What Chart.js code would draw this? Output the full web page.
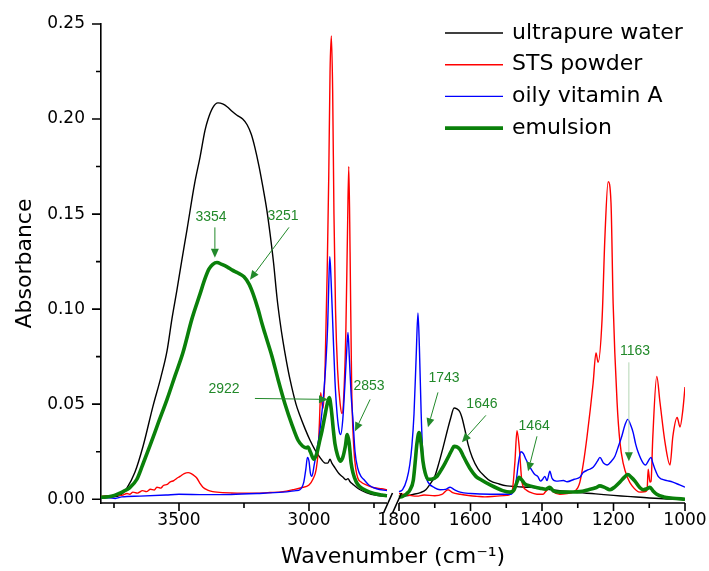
<!DOCTYPE html>
<html>
<head>
<meta charset="utf-8">
<script src="https://cdn.jsdelivr.net/npm/chart.js@4.4.0/dist/chart.umd.min.js"></script>
<style>
  html, body { margin: 0; padding: 0; background: #fff; }
  #wrap { width: 709px; height: 571px; }
</style>
</head>
<body>
<div id="wrap"><canvas id="chart" width="709" height="571"></canvas></div>
<script>
// two pieces of the broken wavenumber axis (cm-1)
const leftRange = [3800, 2700];
const rightRange = [1800, 1000];
const gapWidth = 0.042; // width of the break, in segment widths

const xMajorTicks = [3500, 3000, 1800, 1600, 1400, 1200, 1000];
const xTickList = [3750, 3500, 3250, 3000, 2750, 1800, 1700, 1600, 1500, 1400, 1300, 1200, 1100, 1000];
const yTickValues = [0, 0.025, 0.05, 0.075, 0.1, 0.125, 0.15, 0.175, 0.2, 0.225, 0.25];

// [wavenumber, absorbance]
const waterSpectrum = [
  [3800,0.001],[3760,0.0012],[3727,0.002],[3700,0.006],[3670,0.014],[3638,0.028],[3600,0.049],[3570,0.064],
  [3546,0.078],[3527,0.095],[3508,0.11],[3490,0.125],[3469,0.142],[3440,0.166],[3419,0.18],[3400,0.194],
  [3388,0.2],[3370,0.206],[3350,0.2085],[3330,0.2078],[3315,0.2065],[3295,0.204],[3277,0.202],[3255,0.2],
  [3238,0.197],[3222,0.192],[3208,0.185],[3192,0.175],[3177,0.164],[3162,0.152],[3150,0.14],[3136,0.124],
  [3123,0.106],[3112,0.094],[3100,0.083],[3086,0.072],[3073,0.063],[3050,0.05],[3035,0.044],[3015,0.037],
  [2996,0.031],[2977,0.026],[2958,0.022],[2938,0.019],[2928,0.019],[2919,0.021],[2912,0.019],[2900,0.0165],
  [2885,0.0135],[2869,0.0115],[2858,0.0102],[2850,0.0108],[2842,0.0092],[2831,0.0078],[2810,0.0055],
  [2780,0.0035],[2740,0.002],[2700,0.0015],
  [1800,0.0012],[1780,0.0018],[1761,0.0025],[1740,0.0035],[1725,0.005],[1713,0.008],[1700,0.012],[1690,0.018],
  [1677,0.027],[1665,0.036],[1655,0.043],[1646,0.048],[1638,0.0475],[1630,0.046],[1624,0.043],[1615,0.036],
  [1607,0.029],[1595,0.022],[1579,0.016],[1560,0.012],[1546,0.0098],[1520,0.008],[1498,0.007],[1470,0.0066],
  [1434,0.0062],[1400,0.0055],[1350,0.0045],[1313,0.0037],[1250,0.0028],[1200,0.002],[1162,0.0015],
  [1100,0.0006],[1050,0.0001],[1000,0]
];

const stsSpectrum = [
  [3800,0.0015],[3780,0.0018],[3760,0.0016],[3740,0.0022],[3720,0.002],[3700,0.003],[3690,0.0026],[3677,0.0037],
  [3660,0.0032],[3640,0.0045],[3625,0.004],[3610,0.0052],[3595,0.0048],[3585,0.0063],[3570,0.0058],[3560,0.0072],
  [3545,0.0078],[3535,0.009],[3520,0.0098],[3508,0.011],[3496,0.012],[3480,0.0135],[3465,0.014],[3450,0.0132],
  [3440,0.0122],[3431,0.011],[3420,0.0085],[3408,0.0063],[3390,0.0048],[3370,0.004],[3354,0.0037],[3300,0.0033],
  [3250,0.0032],[3200,0.0032],[3150,0.0035],[3100,0.004],[3062,0.005],[3030,0.006],[3000,0.0075],[2985,0.0105],
  [2972,0.016],[2965,0.025],[2960,0.04],[2955,0.056],[2950,0.05],[2945,0.048],[2938,0.07],[2930,0.12],
  [2924,0.17],[2919,0.225],[2914,0.2437],[2909,0.215],[2904,0.15],[2898,0.1],[2890,0.068],[2880,0.05],
  [2873,0.045],[2866,0.055],[2858,0.09],[2852,0.14],[2847,0.175],[2842,0.13],[2836,0.06],[2828,0.028],
  [2820,0.016],[2812,0.011],[2800,0.009],[2780,0.0075],[2750,0.006],[2720,0.0055],[2700,0.005],
  [1800,0.003],[1790,0.0026],[1770,0.002],[1750,0.0016],[1730,0.0022],[1700,0.0018],[1680,0.0025],[1663,0.005],
  [1650,0.0035],[1629,0.0026],[1600,0.0018],[1582,0.0015],[1560,0.0012],[1526,0.0016],[1498,0.002],[1484,0.0037],
  [1476,0.019],[1470,0.036],[1464,0.028],[1456,0.009],[1445,0.005],[1434,0.0037],[1414,0.0026],[1397,0.0026],
  [1390,0.004],[1378,0.006],[1369,0.004],[1350,0.0026],[1330,0.003],[1313,0.0037],[1300,0.006],[1294,0.009],
  [1285,0.018],[1274,0.033],[1257,0.061],[1249,0.077],[1243,0.072],[1232,0.0945],[1224,0.138],[1215,0.167],
  [1207,0.156],[1201,0.103],[1190,0.051],[1182,0.03],[1173,0.019],[1160,0.011],[1148,0.007],[1126,0.0037],
  [1110,0.004],[1106,0.005],[1103,0.0158],[1098,0.009],[1095,0.0095],[1090,0.033],[1079,0.0646],[1070,0.051],
  [1056,0.03],[1042,0.018],[1034,0.033],[1022,0.043],[1014,0.038],[1006,0.047],[1000,0.059]
];

const vitaminSpectrum = [
  [3800,0.0005],[3770,0.0008],[3745,0.0004],[3720,0.0012],[3650,0.0016],[3550,0.0022],[3500,0.0026],[3400,0.0024],
  [3300,0.0025],[3200,0.003],[3100,0.0037],[3050,0.0045],[3035,0.005],[3020,0.009],[3012,0.016],[3006,0.022],
  [3000,0.02],[2995,0.014],[2989,0.012],[2980,0.018],[2970,0.026],[2960,0.034],[2950,0.046],[2942,0.058],
  [2935,0.072],[2928,0.092],[2924,0.113],[2920,0.1276],[2915,0.115],[2908,0.09],[2900,0.062],[2892,0.045],
  [2884,0.036],[2878,0.034],[2870,0.042],[2862,0.06],[2855,0.078],[2850,0.0877],[2845,0.075],[2838,0.055],
  [2831,0.042],[2823,0.025],[2812,0.016],[2800,0.012],[2790,0.0105],[2770,0.0075],[2740,0.0055],[2700,0.0045],
  [1800,0.004],[1790,0.005],[1778,0.0105],[1770,0.018],[1764,0.028],[1758,0.045],[1752,0.075],[1747,0.098],
  [1743,0.08],[1738,0.045],[1733,0.022],[1726,0.013],[1719,0.009],[1700,0.006],[1685,0.005],[1670,0.0052],
  [1657,0.0063],[1645,0.005],[1629,0.0037],[1600,0.003],[1545,0.0026],[1490,0.0026],[1480,0.004],[1472,0.01],
  [1466,0.019],[1459,0.025],[1452,0.024],[1445,0.021],[1434,0.017],[1420,0.013],[1412,0.012],[1404,0.0095],
  [1398,0.0105],[1392,0.012],[1386,0.0098],[1378,0.0147],[1372,0.011],[1360,0.0095],[1340,0.0098],[1330,0.0092],
  [1310,0.0105],[1294,0.0115],[1285,0.014],[1270,0.0155],[1257,0.0168],[1245,0.02],[1238,0.022],[1228,0.019],
  [1218,0.018],[1206,0.02],[1196,0.0226],[1186,0.028],[1177,0.033],[1168,0.039],[1160,0.042],[1152,0.039],
  [1145,0.035],[1138,0.029],[1131,0.0247],[1117,0.019],[1110,0.018],[1106,0.019],[1100,0.021],[1095,0.022],
  [1090,0.019],[1084,0.0158],[1075,0.012],[1065,0.0105],[1050,0.0098],[1034,0.009],[1015,0.0075],[1000,0.0063]
];

const emulsionSpectrum = [
  [3800,0.001],[3760,0.0015],[3730,0.003],[3715,0.004],[3690,0.006],[3662,0.0105],[3640,0.018],[3612,0.028],
  [3580,0.04],[3546,0.0525],[3515,0.065],[3485,0.077],[3450,0.095],[3419,0.108],[3400,0.116],[3385,0.121],
  [3370,0.1235],[3354,0.1245],[3335,0.1235],[3315,0.1222],[3295,0.1205],[3273,0.119],[3250,0.117],[3230,0.113],
  [3215,0.108],[3196,0.1],[3180,0.092],[3169,0.087],[3142,0.075],[3119,0.063],[3092,0.05],[3065,0.039],
  [3042,0.031],[3025,0.028],[3010,0.027],[3004,0.0275],[2995,0.025],[2981,0.021],[2970,0.024],[2960,0.03],
  [2950,0.036],[2940,0.043],[2930,0.05],[2922,0.0535],[2914,0.047],[2906,0.036],[2900,0.029],[2890,0.023],
  [2880,0.02],[2870,0.022],[2860,0.028],[2853,0.034],[2846,0.03],[2838,0.019],[2831,0.014],[2818,0.009],
  [2804,0.0065],[2780,0.0045],[2750,0.003],[2720,0.0022],[2700,0.0018],
  [1800,0.001],[1790,0.0015],[1778,0.003],[1769,0.005],[1760,0.01],[1755,0.019],[1750,0.029],[1744,0.035],
  [1738,0.029],[1733,0.02],[1727,0.014],[1719,0.0105],[1710,0.0105],[1694,0.012],[1680,0.016],[1671,0.019],
  [1660,0.023],[1652,0.026],[1646,0.0278],[1638,0.0275],[1629,0.026],[1621,0.023],[1610,0.019],[1601,0.016],
  [1585,0.012],[1573,0.0105],[1545,0.0075],[1510,0.0045],[1490,0.0037],[1478,0.005],[1470,0.009],[1464,0.0115],
  [1456,0.01],[1448,0.008],[1434,0.007],[1406,0.0058],[1390,0.0052],[1378,0.0063],[1369,0.0045],[1350,0.0037],
  [1320,0.0038],[1294,0.004],[1270,0.005],[1250,0.006],[1238,0.007],[1225,0.0062],[1210,0.005],[1196,0.0065],
  [1182,0.009],[1170,0.0115],[1160,0.013],[1150,0.0115],[1140,0.0095],[1126,0.006],[1117,0.005],[1106,0.0055],
  [1098,0.0063],[1090,0.0045],[1079,0.0026],[1060,0.0012],[1034,0.0005],[1000,0]
];

// peak labels: text position, arrow start, arrow tip (wavenumber, absorbance)
const peakNotes = [
  { text: '3354', at: [3377, 0.1486], from: [3362, 0.143], to: [3362, 0.127] },
  { text: '3251', at: [3100, 0.149], from: [3077, 0.143], to: [3227, 0.1155] },
  { text: '2922', at: [3327, 0.0578], from: [3208, 0.053], to: [2927, 0.0525] },
  { text: '2853', at: [2769, 0.0593], from: [2765, 0.0525], to: [2823, 0.0357] },
  { text: '1743', at: [1674, 0.0636], from: [1691, 0.0562], to: [1719, 0.0378] },
  { text: '1646', at: [1568, 0.0499], from: [1557, 0.0441], to: [1624, 0.030] },
  { text: '1464', at: [1422, 0.0383], from: [1414, 0.0331], to: [1439, 0.0147] },
  { text: '1163', at: [1140, 0.0777], from: [1157, 0.072], to: [1157, 0.020], faint: true }
];
const noteColor = '#22892a';

const splitWn = (leftRange[1] + rightRange[0]) / 2;

function wnToU(wn) {
  if (wn > splitWn) return (leftRange[0] - wn) / (leftRange[0] - leftRange[1]);
  return 1 + gapWidth + (rightRange[0] - wn) / (rightRange[0] - rightRange[1]);
}

function toPoints(spectrum) {
  const pts = [];
  spectrum.forEach(([wn, a], i) => {
    if (i > 0 && spectrum[i - 1][0] > splitWn && wn < splitWn) {
      pts.push({ x: 1 + gapWidth / 2, y: null }); // no line across the break
    }
    pts.push({ x: wnToU(wn), y: a });
  });
  return pts;
}

const isMajorY = v => Math.abs(v * 20 - Math.round(v * 20)) < 1e-6;

const axisDecor = {
  id: 'axisDecor',
  afterDatasetsDraw(chart) {
    const { ctx, chartArea, scales: { x, y } } = chart;
    const yb = chartArea.bottom;
    const leftEnd = x.getPixelForValue(1);
    const rightStart = x.getPixelForValue(1 + gapWidth);
    ctx.save();
    ctx.strokeStyle = '#000';
    ctx.lineWidth = 1.6;
    ctx.beginPath();
    ctx.moveTo(chartArea.left, yb); ctx.lineTo(leftEnd, yb);
    ctx.moveTo(rightStart, yb); ctx.lineTo(chartArea.right, yb);
    [leftEnd + 1, rightStart - 2].forEach(cx => {
      ctx.moveTo(cx - 4.5, yb + 10); ctx.lineTo(cx + 4.5, yb - 10);
    });
    xTickList.forEach(wn => {
      const px = x.getPixelForValue(wnToU(wn));
      ctx.moveTo(px, yb); ctx.lineTo(px, yb + (xMajorTicks.includes(wn) ? 8 : 5));
    });
    yTickValues.forEach(v => {
      const py = y.getPixelForValue(v);
      ctx.moveTo(chartArea.left, py); ctx.lineTo(chartArea.left - (isMajorY(v) ? 9 : 5), py);
    });
    ctx.stroke();
    ctx.restore();
  }
};

const peakLabels = {
  id: 'peakLabels',
  afterDatasetsDraw(chart) {
    const { ctx, scales: { x, y } } = chart;
    const px = wn => x.getPixelForValue(wnToU(wn));
    ctx.save();
    ctx.font = '14px "Liberation Sans", Arial, sans-serif';
    ctx.textAlign = 'center';
    ctx.textBaseline = 'middle';
    peakNotes.forEach(n => {
      ctx.fillStyle = noteColor;
      ctx.fillText(n.text, px(n.at[0]), y.getPixelForValue(n.at[1]));
      const x0 = px(n.from[0]), y0 = y.getPixelForValue(n.from[1]);
      const x1 = px(n.to[0]), y1 = y.getPixelForValue(n.to[1]);
      const ang = Math.atan2(y1 - y0, x1 - x0);
      const bx = x1 - 9 * Math.cos(ang), by = y1 - 9 * Math.sin(ang);
      ctx.strokeStyle = n.faint ? '#b5d6b5' : noteColor;
      ctx.lineWidth = 1;
      ctx.beginPath(); ctx.moveTo(x0, y0); ctx.lineTo(bx, by); ctx.stroke();
      ctx.beginPath();
      ctx.moveTo(x1, y1);
      ctx.lineTo(bx + 4 * Math.sin(ang), by - 4 * Math.cos(ang));
      ctx.lineTo(bx - 4 * Math.sin(ang), by + 4 * Math.cos(ang));
      ctx.closePath();
      ctx.fill();
    });
    ctx.restore();
  }
};

const cornerLegend = {
  id: 'cornerLegend',
  afterDraw(chart) {
    const { ctx, chartArea } = chart;
    ctx.save();
    ctx.font = '22px "DejaVu Sans"';
    ctx.textAlign = 'left';
    ctx.textBaseline = 'middle';
    chart.data.datasets.forEach((ds, i) => {
      const rowY = chartArea.top + 9 + i * 31.7;
      ctx.strokeStyle = ds.borderColor;
      ctx.lineWidth = ds.borderWidth;
      ctx.beginPath();
      ctx.moveTo(chartArea.right - 240, rowY);
      ctx.lineTo(chartArea.right - 182, rowY);
      ctx.stroke();
      ctx.fillStyle = '#000';
      ctx.fillText(ds.label, chartArea.right - 173, rowY);
    });
    ctx.restore();
  }
};

const tickFont = { family: 'DejaVu Sans', size: 17 };
const titleFont = { family: 'DejaVu Sans', size: 22 };

new Chart(document.getElementById('chart'), {
  type: 'line',
  data: {
    datasets: [
      { label: 'ultrapure water', data: toPoints(waterSpectrum), borderColor: '#000000', borderWidth: 1.4, order: 4 },
      { label: 'STS powder', data: toPoints(stsSpectrum), borderColor: '#ff0000', borderWidth: 1.4, order: 3 },
      { label: 'oily vitamin A', data: toPoints(vitaminSpectrum), borderColor: '#0000ff', borderWidth: 1.4, order: 2 },
      { label: 'emulsion', data: toPoints(emulsionSpectrum), borderColor: '#0a800a', borderWidth: 3.6, order: 1 }
    ]
  },
  options: {
    responsive: false,
    animation: false,
    spanGaps: false,
    elements: {
      point: { radius: 0 },
      line: { cubicInterpolationMode: 'monotone', fill: false, borderJoinStyle: 'round' }
    },
    layout: { padding: { top: 24, right: 24, left: 0, bottom: 0 } },
    plugins: { legend: { display: false }, tooltip: { enabled: false } },
    scales: {
      x: {
        type: 'linear',
        min: 0,
        max: 2 + gapWidth,
        bounds: 'data',
        afterBuildTicks: s => { s.ticks = xTickList.map(wn => ({ value: wnToU(wn) })); },
        afterFit: s => { s.height = 68; },
        ticks: {
          autoSkip: false, maxRotation: 0, padding: 1, color: '#000', font: tickFont,
          callback: (v, i) => xMajorTicks.includes(xTickList[i]) ? String(xTickList[i]) : ''
        },
        grid: { display: true, drawOnChartArea: false, drawTicks: true, tickLength: 6, tickColor: 'rgba(0,0,0,0)' },
        border: { display: false },
        title: { display: true, text: 'Wavenumber (cm⁻¹)', color: '#000', font: titleFont, padding: { top: 0, bottom: 1 } }
      },
      y: {
        min: -0.002,
        max: 0.25,
        afterBuildTicks: s => { s.ticks = yTickValues.map(v => ({ value: v })); },
        afterFit: s => { s.width = 101; },
        ticks: {
          autoSkip: false, padding: 8, color: '#000', font: tickFont,
          callback: v => isMajorY(v) ? v.toFixed(2) : ''
        },
        grid: { display: true, drawOnChartArea: false, drawTicks: true, tickLength: 8, tickColor: 'rgba(0,0,0,0)' },
        border: { display: true, color: '#000', width: 1.6 },
        title: { display: true, text: 'Absorbance', color: '#000', font: titleFont, padding: { top: 12, bottom: 0 } }
      }
    }
  },
  plugins: [axisDecor, peakLabels, cornerLegend]
});
</script>
</body>
</html>
